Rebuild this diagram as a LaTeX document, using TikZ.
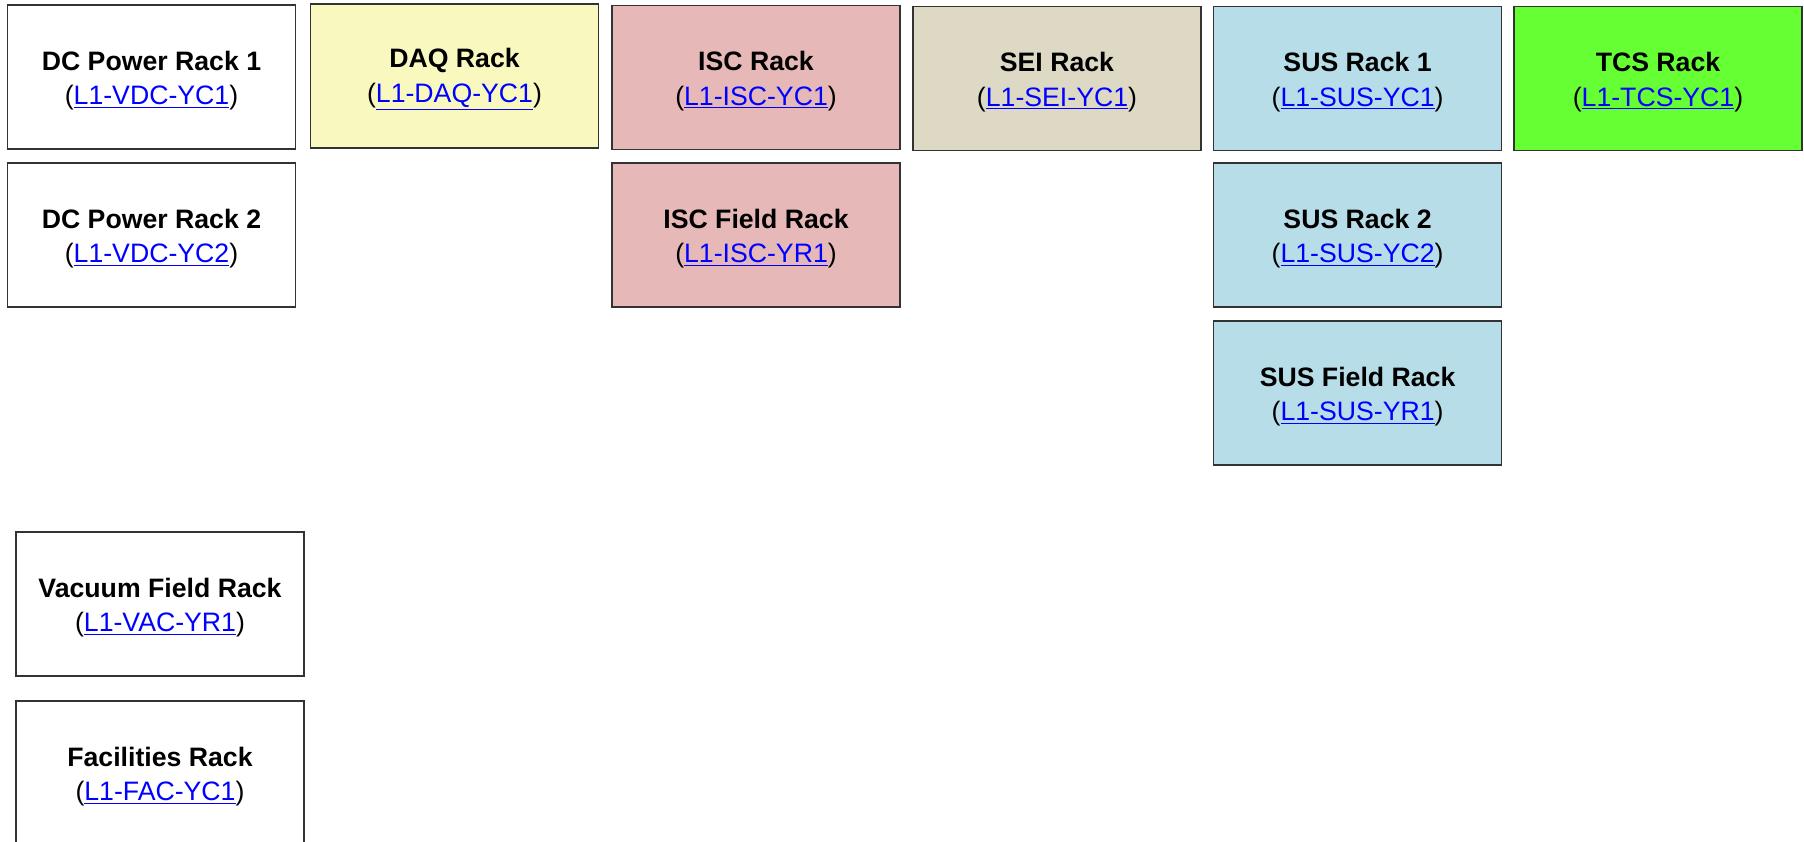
\documentclass[tikz,border=0pt]{standalone}
\usepackage{fontspec}
\setmainfont{Liberation Sans}
\definecolor{rackline}{HTML}{333333}
\definecolor{linkblue}{HTML}{0000FF}
\definecolor{daqfill}{HTML}{F9F9BF}
\definecolor{iscfill}{HTML}{E6B8B7}
\definecolor{seifill}{HTML}{DDD9C4}
\definecolor{susfill}{HTML}{B7DEE8}
\definecolor{tcsfill}{HTML}{66FF33}
\newcommand{\racktext}[2]{\rule{0pt}{19.7pt}\textbf{#1}\\({\color{linkblue}\underline{#2}})}
\begin{document}
\begin{tikzpicture}[x=0.75pt,y=0.75pt,yscale=-1,xscale=1,
    rack/.style={draw=rackline, line width=0.9pt, fill=white, minimum width=216pt, minimum height=108pt, inner sep=0pt, align=center, font=\fontsize{20}{26}\selectfont}]
        \useasboundingbox (0,0) rectangle (1804,842);
        % top row
        \node [rack] (vdcA) at (151.5,77) {\racktext{DC Power Rack 1}{L1-VDC-YC1}};
        \node [rack, fill=daqfill] (daq) at (454.5,76) {\racktext{DAQ Rack}{L1-DAQ-YC1}};
        \node [rack, fill=iscfill] (isc) at (756,77.5) {\racktext{ISC Rack}{L1-ISC-YC1}};
        \node [rack, fill=seifill] (sei) at (1057,78.5) {\racktext{SEI Rack}{L1-SEI-YC1}};
        \node [rack, fill=susfill] (susA) at (1357.6,78.5) {\racktext{SUS Rack 1}{L1-SUS-YC1}};
        \node [rack, fill=tcsfill] (tcs) at (1658,78.5) {\racktext{TCS Rack}{L1-TCS-YC1}};
        % second row
        \node [rack] (vdcB) at (151.5,235) {\racktext{DC Power Rack 2}{L1-VDC-YC2}};
        \node [rack, fill=iscfill] (iscfield) at (756,235) {\racktext{ISC Field Rack}{L1-ISC-YR1}};
        \node [rack, fill=susfill] (susB) at (1357.6,235) {\racktext{SUS Rack 2}{L1-SUS-YC2}};
        \node [rack, fill=susfill] (susfield) at (1357.6,393) {\racktext{SUS Field Rack}{L1-SUS-YR1}};
        % field racks
        \node [rack] (vac) at (160,604) {\racktext{Vacuum Field Rack}{L1-VAC-YR1}};
        \node [rack] (fac) at (160,773) {\racktext{Facilities Rack}{L1-FAC-YC1}};
\end{tikzpicture}
\end{document}
